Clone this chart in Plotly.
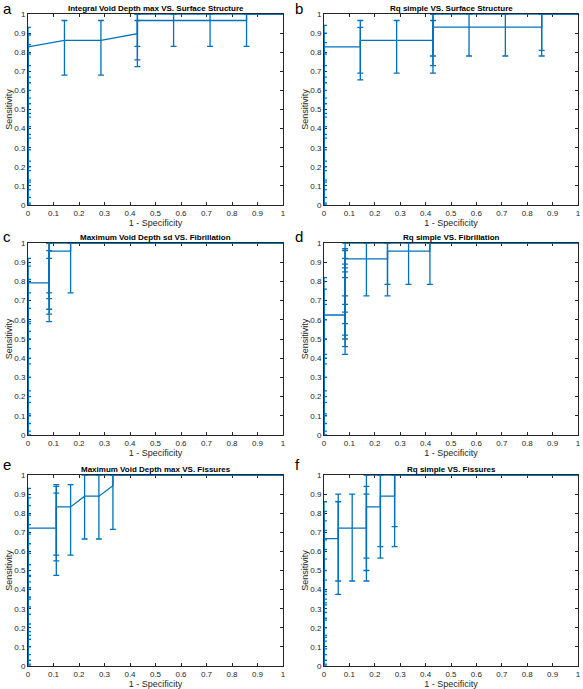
import plotly.graph_objects as go

BLUE = "#0072BD"
AX = "#262626"

titles = ["Integral Void Depth max VS. Surface Structure",
          "Rq simple VS. Surface Structure",
          "Maximum Void Depth sd VS. Fibrillation",
          "Rq simple VS. Fibrillation",
          "Maximum Void Depth max VS. Fissures",
          "Rq simple VS. Fissures"]
letters = ["a", "b", "c", "d", "e", "f"]

# ---- panel a : points on x = 0 (the ROC climbing the sensitivity axis)
a_x0_y  = [0, 0.069, 0.138, 0.207, 0.276, 0.345, 0.414, 0.483, 0.552, 0.621, 0.690, 0.759, 0.828]
a_x0_lo = [0, 0.01, 0.04, 0.08, 0.13, 0.18, 0.23, 0.29, 0.35, 0.41, 0.48, 0.56, 0.64]
a_x0_hi = [0.12, 0.20, 0.29, 0.37, 0.46, 0.53, 0.60, 0.67, 0.73, 0.79, 0.84, 0.89, 0.93]
# ---- panel a : remaining points
a_x  = [0.143, 0.286, 0.429, 0.429, 0.429, 0.571, 0.714, 0.857, 0.857, 1.0]
a_y  = [0.862, 0.862, 0.897, 0.931, 0.966, 0.966, 0.966, 0.966, 1.0, 1.0]
a_lo = [0.68, 0.68, 0.725, 0.76, 0.83, 0.83, 0.83, 0.83, 1.0, 1.0]
a_hi = [0.966, 0.966, 0.966, 1.0, 1.0, 1.0, 1.0, 1.0, 1.0, 1.0]

# ---- panel b
b_x0_y  = [0, 0.069, 0.138, 0.207, 0.276, 0.345, 0.414, 0.483, 0.552, 0.621, 0.690, 0.759, 0.828]
b_x0_lo = [0, 0.01, 0.04, 0.08, 0.13, 0.18, 0.23, 0.29, 0.35, 0.41, 0.48, 0.56, 0.64]
b_x0_hi = [0.12, 0.20, 0.29, 0.37, 0.46, 0.53, 0.60, 0.67, 0.73, 0.79, 0.85, 0.90, 0.94]
b_x  = [0.143, 0.143, 0.286, 0.429, 0.429, 0.429, 0.571, 0.714, 0.857, 0.857, 0.857, 1.0]
b_y  = [0.828, 0.862, 0.862, 0.862, 0.897, 0.931, 0.931, 0.931, 0.931, 0.966, 1.0, 1.0]
b_lo = [0.655, 0.69, 0.69, 0.69, 0.73, 0.78, 0.78, 0.78, 0.78, 0.81, 1.0, 1.0]
b_hi = [0.93, 0.966, 0.966, 0.966, 1.0, 1.0, 1.0, 1.0, 1.0, 1.0, 1.0, 1.0]

# ---- panel c
c_x0_y  = [0, 0.083, 0.167, 0.25, 0.333, 0.417, 0.5, 0.583, 0.667, 0.75, 0.792]
c_x0_lo = [0, 0.02, 0.06, 0.11, 0.17, 0.23, 0.30, 0.37, 0.45, 0.54, 0.59]
c_x0_hi = [0.10, 0.20, 0.30, 0.40, 0.50, 0.58, 0.66, 0.74, 0.81, 0.88, 0.92]
c_x  = [0.083, 0.083, 0.083, 0.083, 0.083, 0.167, 0.167, 1.0]
c_y  = [0.792, 0.833, 0.875, 0.917, 0.958, 0.958, 1.0, 1.0]
c_lo = [0.59, 0.63, 0.655, 0.71, 0.74, 0.74, 1.0, 1.0]
c_hi = [0.92, 0.96, 1.0, 1.0, 1.0, 1.0, 1.0, 1.0]

# ---- panel d
d_x0_y  = [0, 0.083, 0.167, 0.25, 0.333, 0.417, 0.5, 0.583, 0.625]
d_x0_lo = [0, 0.02, 0.06, 0.11, 0.17, 0.23, 0.30, 0.37, 0.42]
d_x0_hi = [0.10, 0.20, 0.30, 0.40, 0.50, 0.60, 0.68, 0.76, 0.82]
d_x  = [0.083, 0.083, 0.083, 0.083, 0.083, 0.083, 0.083, 0.083, 0.167, 0.25, 0.25, 0.333, 0.417, 0.417, 1.0]
d_y  = [0.625, 0.667, 0.708, 0.75, 0.792, 0.833, 0.875, 0.917, 0.917, 0.917, 0.958, 0.958, 0.958, 1.0, 1.0]
d_lo = [0.42, 0.46, 0.50, 0.52, 0.58, 0.64, 0.68, 0.725, 0.725, 0.725, 0.785, 0.785, 0.785, 1.0, 1.0]
d_hi = [0.82, 0.85, 0.87, 0.89, 0.92, 0.96, 0.97, 1.0, 1.0, 1.0, 1.0, 1.0, 1.0, 1.0, 1.0]

# ---- panel e
e_x0_y  = [0, 0.056, 0.111, 0.167, 0.222, 0.278, 0.333, 0.389, 0.444, 0.5, 0.556, 0.611, 0.667, 0.722]
e_x0_lo = [0, 0.01, 0.03, 0.06, 0.10, 0.14, 0.18, 0.22, 0.27, 0.31, 0.36, 0.41, 0.44, 0.475]
e_x0_hi = [0.16, 0.27, 0.35, 0.41, 0.47, 0.53, 0.59, 0.64, 0.69, 0.74, 0.79, 0.84, 0.88, 0.93]
e_x  = [0.111, 0.111, 0.111, 0.167, 0.222, 0.278, 0.333, 0.333, 1.0]
e_y  = [0.722, 0.778, 0.833, 0.833, 0.889, 0.889, 0.944, 1.0, 1.0]
e_lo = [0.475, 0.55, 0.58, 0.58, 0.665, 0.665, 0.715, 1.0, 1.0]
e_hi = [0.905, 0.94, 0.95, 0.95, 1.0, 1.0, 1.0, 1.0, 1.0]

# ---- panel f
f_x0_y  = [0, 0.056, 0.111, 0.167, 0.222, 0.278, 0.333, 0.389, 0.444, 0.5, 0.556, 0.611, 0.667]
f_x0_lo = [0, 0.01, 0.03, 0.06, 0.09, 0.13, 0.16, 0.20, 0.24, 0.28, 0.32, 0.35, 0.375]
f_x0_hi = [0.15, 0.25, 0.33, 0.39, 0.45, 0.50, 0.56, 0.61, 0.66, 0.71, 0.76, 0.81, 0.86]
f_x  = [0.056, 0.056, 0.111, 0.167, 0.167, 0.167, 0.222, 0.222, 0.278, 0.278, 0.278, 1.0]
f_y  = [0.667, 0.722, 0.722, 0.722, 0.778, 0.833, 0.833, 0.889, 0.889, 0.944, 1.0, 1.0]
f_lo = [0.375, 0.445, 0.445, 0.445, 0.50, 0.565, 0.565, 0.625, 0.625, 0.73, 1.0, 1.0]
f_hi = [0.86, 0.90, 0.90, 0.90, 0.94, 1.0, 1.0, 1.0, 1.0, 1.0, 1.0, 1.0]

# where the upper confidence bound first reaches 1 (drawn along top edge)
top_start = [0.429, 0.429, 0.083, 0.083, 0.222, 0.167]

panels = [
    (a_x0_y, a_x0_lo, a_x0_hi, a_x, a_y, a_lo, a_hi),
    (b_x0_y, b_x0_lo, b_x0_hi, b_x, b_y, b_lo, b_hi),
    (c_x0_y, c_x0_lo, c_x0_hi, c_x, c_y, c_lo, c_hi),
    (d_x0_y, d_x0_lo, d_x0_hi, d_x, d_y, d_lo, d_hi),
    (e_x0_y, e_x0_lo, e_x0_hi, e_x, e_y, e_lo, e_hi),
    (f_x0_y, f_x0_lo, f_x0_hi, f_x, f_y, f_lo, f_hi),
]

ticks = [round(0.1 * i, 1) for i in range(11)]
tick_text = ["0", "0.1", "0.2", "0.3", "0.4", "0.5", "0.6", "0.7", "0.8", "0.9", "1"]

W, H = 583, 689
# pixel boxes of the axes: (left, right, top, bottom)
boxes = [(28, 283, 14, 205), (324, 578, 14, 205),
         (28, 283, 243, 435), (324, 578, 243, 435),
         (28, 283, 475, 666), (324, 578, 475, 666)]
letter_pos = [(1, 0), (293, 0), (1, 228), (293, 228), (1, 456), (293, 456)]

fig = go.Figure()
layout = dict(width=W, height=H, margin=dict(l=0, r=0, t=0, b=0),
              paper_bgcolor="white", plot_bgcolor="white", showlegend=False,
              font=dict(family="Liberation Sans, Arial, sans-serif", color=AX))
annotations = []

for i, (x0y, x0lo, x0hi, px, py, plo, phi) in enumerate(panels):
    n = "" if i == 0 else str(i + 1)
    xs = [0.0] * len(x0y) + px
    ys = x0y + py
    los = x0lo + plo
    his = x0hi + phi
    plus = [h - y for h, y in zip(his, ys)]
    minus = [y - l for l, y in zip(los, ys)]
    fig.add_trace(go.Scatter(
        x=xs, y=ys, mode="lines", xaxis="x" + n, yaxis="y" + n,
        line=dict(color=BLUE, width=1.3),
        error_y=dict(type="data", array=plus, arrayminus=minus, symmetric=False,
                     color=BLUE, thickness=1.3, width=3),
        cliponaxis=False, hoverinfo="skip"))
    fig.add_trace(go.Scatter(
        x=[top_start[i], 1.0], y=[1.0, 1.0], mode="lines", xaxis="x" + n, yaxis="y" + n,
        line=dict(color=BLUE, width=1.6), cliponaxis=False, hoverinfo="skip"))

    l, r, t, b = boxes[i]
    xd = [l / W, r / W]
    yd = [1 - b / H, 1 - t / H]
    axcommon = dict(range=[0, 1], tickvals=ticks, ticktext=tick_text,
                    ticks="inside", ticklen=3, tickwidth=1, tickcolor=AX,
                    showline=True, linecolor=AX, linewidth=1, mirror="ticks",
                    showgrid=False, zeroline=False, layer="below traces",
                    automargin=False,
                    tickfont=dict(size=8, color=AX, family="Liberation Sans, Arial, sans-serif"),
                    fixedrange=True)
    layout["xaxis" + n] = dict(axcommon, domain=xd, anchor="y" + n,
                               title=dict(text="1 - Specificity", standoff=3,
                                          font=dict(size=9, color=AX)))
    layout["yaxis" + n] = dict(axcommon, domain=yd, anchor="x" + n,
                               title=dict(text="Sensitivity", standoff=0,
                                          font=dict(size=9, color=AX)))
    annotations.append(dict(text="<b>" + titles[i] + "</b>", xref="paper", yref="paper",
                            x=(xd[0] + xd[1]) / 2, y=yd[1], xanchor="center", yanchor="bottom",
                            yshift=-1, showarrow=False,
                            font=dict(size=8, color="black")))
    lx, ly = letter_pos[i]
    annotations.append(dict(text=letters[i], xref="paper", yref="paper",
                            x=lx / W, y=1 - ly / H, xanchor="left", yanchor="top",
                            yshift=2, showarrow=False, font=dict(size=15, color="black")))

layout["annotations"] = annotations
fig.update_layout(**layout)
fig.write_html("out.html", config={"displayModeBar": False},
               post_script="document.body.style.margin='0';document.body.style.overflow='hidden';")
